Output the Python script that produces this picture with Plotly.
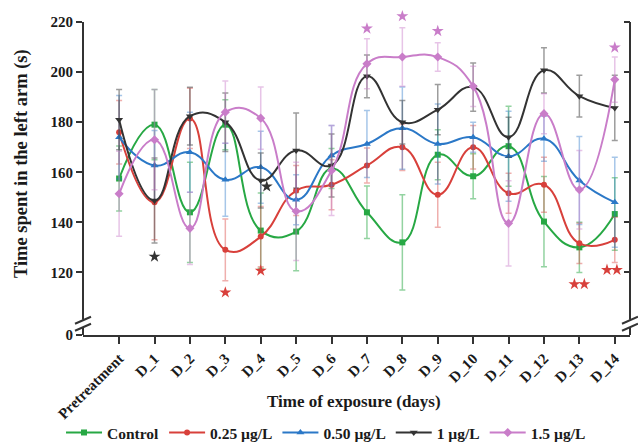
import plotly.graph_objects as go

# Days of exposure
days = ["Pretreatment", "D_1", "D_2", "D_3", "D_4", "D_5", "D_6", "D_7",
        "D_8", "D_9", "D_10", "D_11", "D_12", "D_13", "D_14"]

# Mean time spent in the left arm (s) and standard deviations
control = [157.5, 179, 144, 179, 136.7, 136.3, 161.5, 144, 132, 167, 158.4, 170.4, 140.3, 130, 143.3]
control_sd = [13, 14, 20, 10, 15, 15.6, 8, 10.5, 19, 10, 9, 16, 18, 10, 14.5]

c025 = [176, 148, 181.5, 129, 134.3, 152.7, 155, 162.7, 170, 151, 170, 151.6, 155, 131.6, 133]
c025_sd = [12.7, 15, 12, 12.3, 12, 10, 10, 7, 9.3, 13, 8.7, 8, 11, 8, 9]

c050 = [174, 162.7, 168, 157, 162, 149, 166.7, 171.3, 177.6, 171.3, 174, 166.4, 173.4, 156.7, 148]
c050_sd = [16.7, 14, 16, 14.6, 14.4, 10, 12, 13.4, 16.4, 16, 6, 18, 9, 17.6, 18]

c1 = [181, 148.7, 182.4, 180, 156.7, 168.7, 162.7, 198.3, 180, 185, 194, 174, 200.7, 190.4, 185.7]
c1_sd = [12, 17, 11.5, 11.7, 11, 15, 12.6, 8.5, 8.7, 10, 9.6, 8, 9, 8.3, 13]

c15 = [151.4, 173, 137.6, 184, 181.6, 144.4, 160.7, 203.3, 206, 206, 194.3, 139.6, 183.4, 153, 197]
c15_sd = [17, 20, 14.4, 12.4, 12.4, 19.6, 18, 10, 11.7, 5.7, 8, 17, 8, 15.7, 9]

series_names = ["Control", "0.25 µg/L", "0.50 µg/L", "1 µg/L", "1.5 µg/L"]

# Significance marks: day index, height, number of stars, series index, side shift
sig_day = [1, 4, 3, 4, 13, 14, 7, 8, 9, 14]
sig_y = [126.3, 154.3, 112, 120.7, 115.3, 121, 217.4, 222.3, 216.4, 209.8]
sig_n = [1, 1, 1, 1, 2, 2, 1, 1, 1, 1]
sig_series = [3, 3, 1, 1, 1, 1, 4, 4, 4, 4]
sig_shift = [0, 0.17, 0, 0, 0, -0.08, 0, 0, 0, 0]

colors = ["#27A844", "#D8403B", "#2B78C7", "#333333", "#C97DC9"]
err_colors = ["rgba(39,168,68,0.5)", "rgba(216,64,59,0.42)", "rgba(43,120,199,0.42)",
              "rgba(60,60,60,0.5)", "rgba(201,125,201,0.45)"]
symbols = ["square", "circle", "triangle-up", "triangle-down", "diamond"]
msizes = [6, 6, 7, 7, 7]

means = [control, c025, c050, c1, c15]
sds = [control_sd, c025_sd, c050_sd, c1_sd, c15_sd]

FONT = "Liberation Serif"
AXIS_COLOR = "#333"
Y_FLOOR = 95      # bottom of the broken axis, labelled 0
Y_LAST = 220      # top tick; the vertical axis lines stop here
Y_TOP = 224       # leaves room for the stars above the last tick
BREAK_AT = 99.5

x_idx = list(range(len(days)))

fig = go.Figure()
for k in range(5):
    fig.add_trace(go.Scatter(
        x=x_idx, y=means[k], name=series_names[k],
        mode="lines+markers",
        line=dict(color=colors[k], width=2, shape="spline", smoothing=1.3),
        marker=dict(symbol=symbols[k], size=msizes[k], color=colors[k]),
        error_y=dict(type="data", array=sds[k], visible=True,
                     color=err_colors[k], thickness=1.5, width=3),
    ))

# significance stars
for d, yv, n, s, sh in zip(sig_day, sig_y, sig_n, sig_series, sig_shift):
    xs = [d + sh] if n == 1 else [d + sh - 0.14, d + sh + 0.14]
    fig.add_trace(go.Scatter(
        x=xs, y=[yv] * n, mode="markers", yaxis="y2",
        marker=dict(symbol="star", size=9, color=colors[s]),
        showlegend=False, cliponaxis=False, hoverinfo="skip",
    ))

tickvals = [Y_FLOOR, 120, 140, 160, 180, 200, 220]
ticktext = ["0", "120", "140", "160", "180", "200", "220"]

fig.update_layout(
    width=638, height=444,
    margin=dict(l=83, r=8, t=12, b=109),
    paper_bgcolor="white", plot_bgcolor="white",
    font=dict(family=FONT, color="#1a1a1a"),
    showlegend=True,
    legend=dict(orientation="h", xref="container", yref="container",
                x=0.511, xanchor="center", y=0.025, yanchor="middle",
                font=dict(family=FONT, size=15.5, weight="bold", color="#1a1a1a"),
                itemwidth=36, tracegroupgap=0, bgcolor="rgba(0,0,0,0)"),
    xaxis=dict(range=[-1.02, 14.43], tickvals=x_idx, ticktext=days,
               tickangle=-45, showline=True, linecolor=AXIS_COLOR, linewidth=2,
               ticks="outside", ticklen=7, tickwidth=2, tickcolor=AXIS_COLOR,
               showgrid=False, zeroline=False, automargin=False,
               tickfont=dict(family=FONT, size=15, weight="bold")),
    yaxis=dict(range=[Y_FLOOR, Y_TOP], tickvals=tickvals, ticktext=ticktext,
               showline=False, ticks="outside", ticklen=6, tickwidth=2,
               tickcolor=AXIS_COLOR, showgrid=False, zeroline=False,
               automargin=False,
               tickfont=dict(family=FONT, size=15, weight="bold")),
    yaxis2=dict(range=[Y_FLOOR, Y_TOP], tickvals=tickvals, overlaying="y",
                side="right", anchor="x", showline=False,
                ticks="inside", ticklen=6, tickwidth=2, automargin=False,
                tickcolor=AXIS_COLOR, showticklabels=False, showgrid=False,
                zeroline=False),
)

# axis titles
fig.add_annotation(text="Time of exposure (days)", xref="paper", yref="paper",
                   x=0.495, y=-0.205, xanchor="center", yanchor="middle",
                   showarrow=False,
                   font=dict(family=FONT, size=17, weight="bold", color="#1a1a1a"))
fig.add_annotation(text="Time spent in the left arm (s)", xref="paper", yref="paper",
                   x=-0.111, y=0.53, xanchor="center", yanchor="middle",
                   textangle=-90, showarrow=False,
                   font=dict(family=FONT, size=18.5, weight="bold", color="#1a1a1a"))

# vertical axis lines, from the floor up to the last tick
for xp in (0, 1):
    fig.add_shape(type="line", xref="paper", yref="y", x0=xp, x1=xp,
                  y0=Y_FLOOR, y1=Y_LAST,
                  line=dict(color=AXIS_COLOR, width=2), layer="above")

# broken-axis marks on both vertical axes
for xp in (0, 1):
    fig.add_shape(type="rect", xref="paper", yref="y", xsizemode="pixel",
                  ysizemode="pixel", xanchor=xp, yanchor=BREAK_AT,
                  x0=-3, x1=3, y0=-4, y1=4, fillcolor="white",
                  line=dict(width=0), layer="above")
    for dy in (-4, 3):
        fig.add_shape(type="line", xref="paper", yref="y", xsizemode="pixel",
                      ysizemode="pixel", xanchor=xp, yanchor=BREAK_AT,
                      x0=-8, x1=8, y0=dy - 3, y1=dy + 4,
                      line=dict(color=AXIS_COLOR, width=2), layer="above")

fig.write_html("out.html")
